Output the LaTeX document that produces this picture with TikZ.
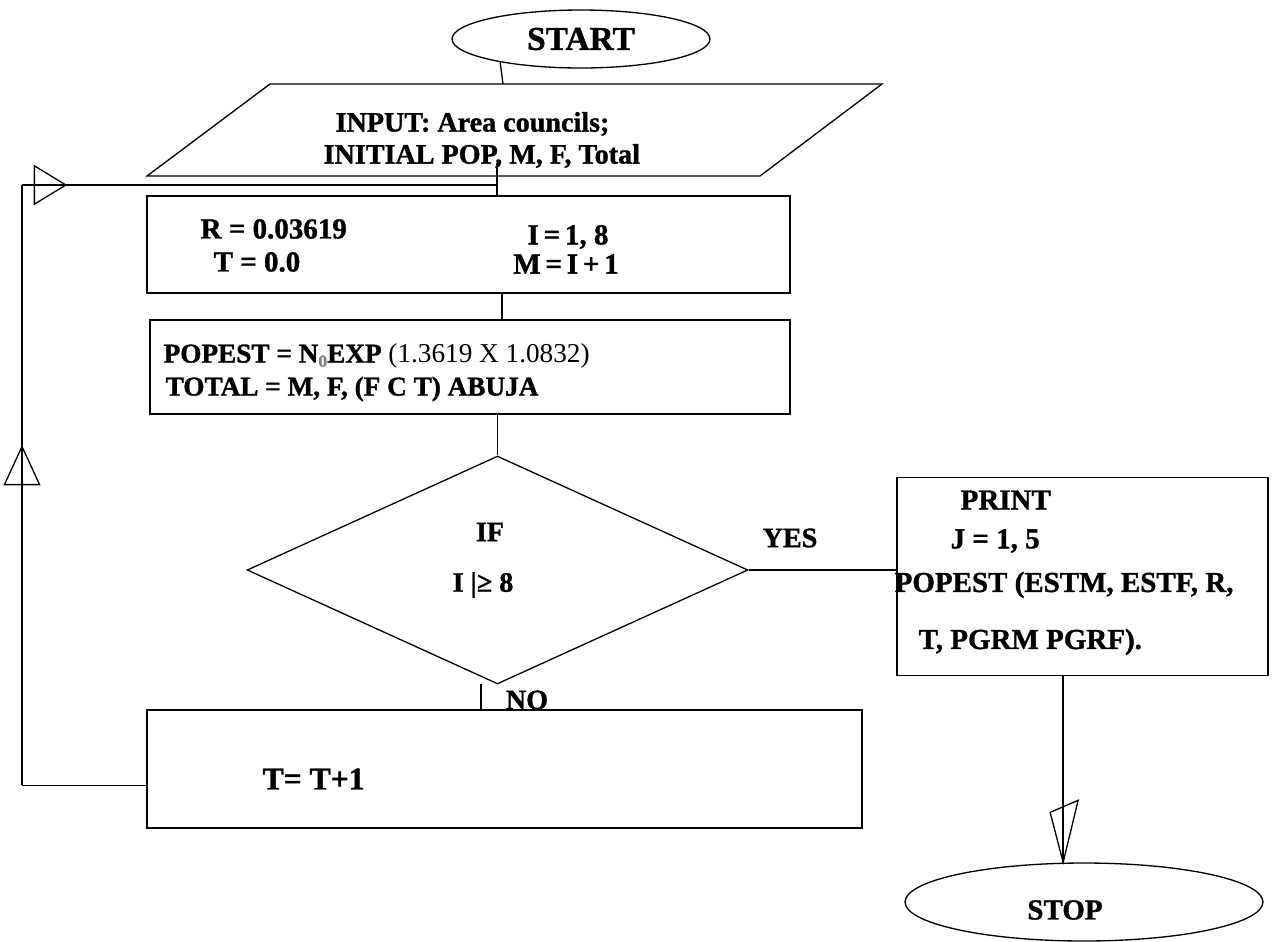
\documentclass[tikz,border=0pt]{standalone}
\usepackage{fontspec}
\setmainfont[BoldFeatures={FakeBold=1.2}]{Liberation Serif}
\usetikzlibrary{shapes.geometric,arrows.meta,decorations.markings,calc}
\begin{document}
\begin{tikzpicture}[x=0.02cm,y=-0.02cm, line width=0.75pt,
  procbox/.style={draw, rectangle, inner sep=0pt},
  btxt/.style={font=\bfseries\fontsize{15.5}{17}\selectfont, inner sep=0pt, anchor=west},
  ctxt/.style={font=\bfseries\fontsize{16}{18}\selectfont, inner sep=0pt},
  ptxt/.style={font=\bfseries\fontsize{16.5}{18}\selectfont, inner sep=0pt, anchor=west},
  midarrow/.style n args={3}{postaction=decorate, decoration={markings,
     mark=at position #1 with {\arrow{Triangle[open,length=#2,width=#3,line width=0.75pt]}}}}]
\useasboundingbox (0,0) rectangle (1276,941);
\fill[white] (0,0) rectangle (1276,941);

% START
\node[draw, ellipse, minimum width=5.16cm, minimum height=1.16cm, inner sep=0pt,
      font=\bfseries\fontsize{19}{21}\selectfont] (start) at (581,39) {START};

% INPUT parallelogram
\coordinate (p1) at (270,84);
\coordinate (p2) at (882,84);
\coordinate (p3) at (760,176);
\coordinate (p4) at (147,176);
\draw (p1) -- (p2) -- (p3) -- (p4) -- cycle;
\node[btxt, font=\bfseries\fontsize{16}{18}\selectfont] (in1) at (335,124) {INPUT: Area councils;};
\node[btxt, font=\bfseries\fontsize{16}{18}\selectfont] (in2) at (323,156) {INITIAL POP, M, F, Total};

% box 2
\node[procbox, minimum width=12.86cm, minimum height=1.94cm] (b2) at (468.5,244.5) {};
\node[btxt, font=\bfseries\fontsize{16.5}{18}\selectfont] (r) at (200,229) {R = 0.03619};
\node[btxt, font=\bfseries\fontsize{16.5}{18}\selectfont] (t0) at (213,262) {T = 0.0};
\node[ctxt, font=\bfseries\fontsize{16.5}{18}\selectfont] (i18) at (568,237) {I\,=\,1, 8};
\node[ctxt, font=\bfseries\fontsize{16.5}{18}\selectfont] (mi) at (566,264) {M\,=\,I\,+\,1};

% box 3
\node[procbox, minimum width=12.8cm, minimum height=1.88cm] (b3) at (470,367) {};
\node[btxt] (pop) at (163,356) {POPEST = N{\color{gray}\fontsize{10}{10}\selectfont\raisebox{-2.5pt}{0}}EXP {\mdseries(1.3619 X 1.0832)}};
\node[btxt] (tot) at (165,389) {TOTAL = M, F, (F C T) ABUJA};

% decision
\node[draw, diamond, minimum width=10.02cm, minimum height=4.56cm, inner sep=0pt] (dia) at (497.5,570) {};
\node[ctxt] (iftxt) at (490,532) {IF};
\node[ctxt] (cond) at (483,585) {I |≥ 8};
\node[ctxt] (yes) at (790,538) {YES};
\node[ctxt] (no) at (527,700) {NO};

% print box
\node[procbox, minimum width=7.42cm, minimum height=3.96cm] (print) at (1082.5,576.5) {};
\node[ptxt] (pr1) at (960,500) {PRINT};
\node[ptxt] (pr2) at (950,541) {J = 1, 5};
\node[ptxt] (pr3) at (894,585) {POPEST (ESTM, ESTF, R,};
\node[ptxt] (pr4) at (918,642) {T, PGRM PGRF).};

% T box
\node[procbox, minimum width=14.3cm, minimum height=2.36cm] (tb) at (504.5,769) {};
\node[btxt, font=\bfseries\fontsize{18}{20}\selectfont] (tt) at (262,779) {T= T+1};

% STOP
\node[draw, ellipse, minimum width=7.16cm, minimum height=1.56cm, inner sep=0pt] (stop) at (1084,902) {};
\node[ctxt, font=\bfseries\fontsize{16.5}{18}\selectfont] (stoptxt) at (1065,910) {STOP};

% connectors
\coordinate (lx) at (22,0);
\coordinate (sx) at (503,0);
\coordinate (ix) at (497,0);
\coordinate (ix2) at (502,0);
\draw (start.196) -- (sx |- p1);
\coordinate (inb) at (497,163);
\coordinate (j) at (ix |- 0,185);
\draw (inb) -- (ix |- b2.north);
\draw (ix2 |- b2.south) -- (ix2 |- b3.north);
\draw (dia.north |- b3.south) -- (dia.north);
\draw (dia.east) -- (dia.east -| print.west);
\coordinate (dsouth) at (481,684);
\draw (dsouth) -- (dsouth |- tb.north);
\coordinate (pb) at ($(print.south west)!0.448!(print.south east)$);
\coordinate (sa) at (pb |- stop.north);
\draw (pb) -- (sa);
\draw ($(sa)+(-13,-50)$) -- (sa) -- ($(sa)+(15,-62)$) -- cycle;
% feedback loop
\coordinate (fb) at ($(tb.north west)!0.636!(tb.south west)$);
\coordinate (c1) at (fb -| lx);
\coordinate (c2) at (j -| lx);
\draw (fb) -- (c1);
\draw[midarrow={0.567}{23pt}{21pt}] (c1) -- (c2);
\draw[midarrow={0.095}{19pt}{23pt}] (c2) -- (j);
\end{tikzpicture}
\end{document}
